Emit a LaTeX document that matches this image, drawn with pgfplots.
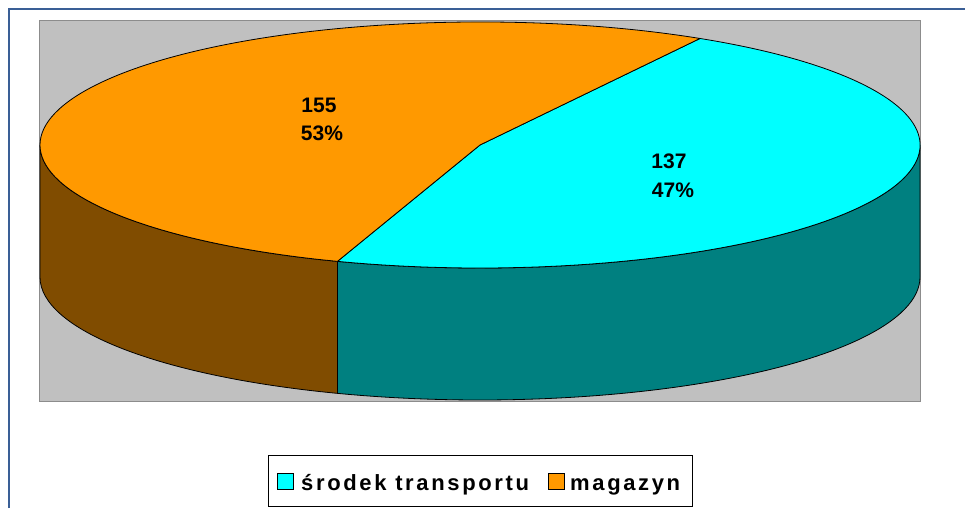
\documentclass[border=0pt]{standalone}
\usepackage{pgfplots}
\pgfplotsset{compat=1.18}
\usepackage{fontspec}
\setmainfont{Liberation Sans}
\newfontfamily\legendfont[LetterSpace=12]{Liberation Sans}
\definecolor{cyanS}{HTML}{00FFFF}
\definecolor{orangeS}{HTML}{FF9900}
\definecolor{cyanD}{HTML}{008080}
\definecolor{orangeD}{HTML}{804C00}
\definecolor{plotgray}{HTML}{C0C0C0}
\definecolor{plotedge}{HTML}{8C8C8C}
\definecolor{frameblue}{HTML}{3A5F96}
\begin{document}
\begin{tikzpicture}
% data
\def\vA{137}% srodek transportu
\def\vB{155}% magazyn
\pgfmathsetmacro\tot{\vA+\vB}
\pgfmathsetmacro\fA{\vA/\tot}
\pgfmathsetmacro\aS{60}
\pgfmathsetmacro\aM{\aS-360*\fA}
\pgfmathsetmacro\aMp{\aM+360}
\pgfmathsetmacro\xS{480+440*cos(\aS)}
\pgfmathsetmacro\yS{363+123*sin(\aS)}
\pgfmathsetmacro\xM{480+440*cos(\aM)}
\pgfmathsetmacro\yM{363+123*sin(\aM)}
\pgfmathtruncatemacro\pA{round(100*\fA)}
\pgfmathtruncatemacro\pB{100-\pA}
\begin{axis}[x=1pt,y=1pt,xmin=0,xmax=965,ymin=0,ymax=508,
  hide axis,clip=false]
\coordinate (SW) at (axis cs:0,0);
\coordinate (NE) at (axis cs:965,508);
\fill[white] (axis cs:0,0) rectangle (axis cs:965,508);
% outer frame
\draw[frameblue,line width=2pt] (axis cs:9.3,0) -- (axis cs:9.3,498.7) -- (axis cs:965,498.7);
% plot area
\filldraw[fill=plotgray,draw=plotedge,line width=1pt] (axis cs:39.5,106) rectangle (axis cs:920.5,487);
% sides
\filldraw[fill=orangeD,draw=black,line width=0.8pt] (axis cs:40,363)
  arc[start angle=180,end angle=\aMp,x radius=440pt,y radius=123pt]
  -- ++(0pt,-132pt)
  arc[start angle=\aMp,end angle=180,x radius=440pt,y radius=123pt] -- cycle;
\filldraw[fill=cyanD,draw=black,line width=0.8pt] (axis cs:\xM,\yM)
  arc[start angle=\aMp,end angle=360,x radius=440pt,y radius=123pt]
  -- ++(0pt,-132pt)
  arc[start angle=360,end angle=\aMp,x radius=440pt,y radius=123pt] -- cycle;
% top
\filldraw[fill=cyanS,draw=black,line width=0.8pt] (axis cs:480,363) -- (axis cs:\xS,\yS)
  arc[start angle=\aS,end angle=\aM,x radius=440pt,y radius=123pt] -- cycle;
\filldraw[fill=orangeS,draw=black,line width=0.8pt] (axis cs:480,363) -- (axis cs:\xS,\yS)
  arc[start angle=\aS,end angle=\aMp,x radius=440pt,y radius=123pt] -- cycle;
% labels
\node[font=\bfseries\fontsize{21}{25}\selectfont,inner sep=0pt] at (axis cs:319,402.5) {\vB};
\node[font=\bfseries\fontsize{21}{25}\selectfont,inner sep=0pt] at (axis cs:322,375) {\pB\%};
\node[font=\bfseries\fontsize{21}{25}\selectfont,inner sep=0pt] at (axis cs:669,346.5) {\vA};
\node[font=\bfseries\fontsize{21}{25}\selectfont,inner sep=0pt] at (axis cs:673,318) {\pA\%};
% legend
\draw[black,line width=1pt] (axis cs:268.5,1.5) rectangle (axis cs:692.5,52);
\filldraw[fill=cyanS,draw=black,line width=0.8pt] (axis cs:277.5,18.5) rectangle (axis cs:293.5,34.5);
\node[anchor=base west,inner sep=0pt] at (axis cs:301,17) {\legendfont\bfseries\fontsize{22}{26}\selectfont środek transportu};
\filldraw[fill=orangeS,draw=black,line width=0.8pt] (axis cs:548.5,18.5) rectangle (axis cs:564.5,34.5);
\node[anchor=base west,inner sep=0pt] at (axis cs:570,17) {\legendfont\bfseries\fontsize{22}{26}\selectfont magazyn};
\end{axis}
\pgfresetboundingbox
\path[use as bounding box] (SW) rectangle (NE);
\end{tikzpicture}
\end{document}
